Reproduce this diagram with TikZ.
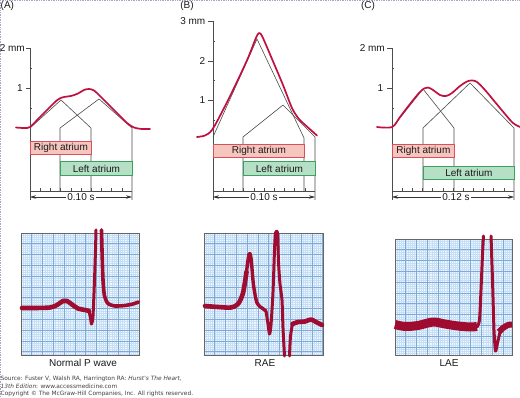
\documentclass[tikz,border=0pt]{standalone}
\usepackage{fontspec}
\setmainfont{Liberation Sans}
\newfontfamily\srcfont{DejaVu Sans}
\usetikzlibrary{arrows.meta}
\definecolor{pw}{HTML}{C01040}
\definecolor{ecg}{HTML}{A00C30}
\definecolor{rafill}{HTML}{F6C6BE}
\definecolor{raedge}{HTML}{D8505C}
\definecolor{lafill}{HTML}{B6E0C6}
\definecolor{laedge}{HTML}{3CA060}
\definecolor{gridbg}{HTML}{F0F7FE}
\definecolor{gridminor}{HTML}{C4DFF6}
\definecolor{gridmajor}{HTML}{80AAD6}
\definecolor{txt}{HTML}{1A1A1A}
\definecolor{edge}{HTML}{B0A4C4}
\newcommand{\ecgpaper}[4]{%
  \fill[gridbg] (#1,#2) rectangle (#3,#4);
  \begin{scope}
    \clip (#1,#2) rectangle (#3,#4);
    \foreach \i in {1,...,56}{
      \draw[minorln] ({#1+\i*2.16},#2) -- ({#1+\i*2.16},#4);
      \draw[minorln] (#1,{#2+\i*2.16}) -- (#3,{#2+\i*2.16});}
    \foreach \i in {1,...,11}{
      \draw[majorln] ({#1+\i*10.8},#2) -- ({#1+\i*10.8},#4);
      \draw[majorln] (#1,{#2+\i*10.8}) -- (#3,{#2+\i*10.8});}
  \end{scope}
  \draw[paperedge] (#1,#2) rectangle (#3,#4);}
\begin{document}
\begin{tikzpicture}[x=1pt,y=-1pt,
  pcurve/.style={draw=pw, line width=1.7pt, line join=round, line cap=round},
  tri/.style={draw=black!70, line width=0.6pt, line join=round},
  axisln/.style={draw=black!70, line width=0.6pt},
  rabox/.style={draw=raedge, fill=rafill, line width=0.8pt, minimum height=13.5pt, inner sep=0pt, anchor=west, font=\fontsize{10}{10}\selectfont, text=txt},
  labox/.style={draw=laedge, fill=lafill, line width=0.8pt, minimum height=13.5pt, inner sep=0pt, anchor=west, font=\fontsize{10}{10}\selectfont, text=txt},
  lbl/.style={font=\fontsize{10}{10}\selectfont, text=txt, inner sep=0pt},
  ticklbl/.style={font=\fontsize{10}{10}\selectfont, text=txt, inner sep=0pt, anchor=east},
  scl/.style={font=\fontsize{10}{10}\selectfont, text=txt, fill=white, inner sep=1.5pt},
  dim/.style={draw=black!80, line width=0.6pt, {Stealth[length=6pt,width=3.5pt]}-{Stealth[length=6pt,width=3.5pt]}},
  minorln/.style={draw=gridminor, line width=0.4pt},
  majorln/.style={draw=gridmajor, line width=0.75pt},
  paperedge/.style={draw=black!60, line width=0.8pt},
  trace/.style={draw=ecg, line join=round, line cap=round},
  src/.style={font=\srcfont\fontsize{5.85}{6}\selectfont, text=black!75, inner sep=0pt, anchor=west}]
\useasboundingbox (0,0) rectangle (520,398);
\fill[white] (0,0) rectangle (520,398);
\draw[edge, densely dotted, line width=0.7pt] (0,0.4) -- (520,0.4);
\draw[edge, densely dotted, line width=0.7pt] (0.4,0) -- (0.4,398);

% panel labels
\node[lbl, anchor=west] (labA) at (0.5,6) {(A)};
\node[lbl] (labB) at (187,6) {(B)};
\node[lbl] (labC) at (368,6) {(C)};

% ================= Panel A =================
\draw[axisln] (30,48) -- (30,200);
\draw[axisln] (26,48) -- (30,48) (26,88) -- (30,88) (30,68) -- (32,68) (30,108) -- (32,108);
\node[ticklbl] (tA2) at (25,48) {2 mm};
\node[ticklbl] (tA1) at (23,88) {1};
\draw[tri] (30,128) -- (61,100) -- (91,128) -- (91,191);
\draw[tri] (60,191) -- (60,128) -- (99,99) -- (132,128) -- (132,200);
\draw[pcurve] plot[smooth, tension=0.55] coordinates {(16,127.5) (24,128) (30,127) (40,117) (50,107) (58,99.5) (64,97) (71,96) (78,93.5) (84,90) (89,89) (94,90.5) (100,96) (110,106) (120,116) (127,123) (134,127.5) (142,129) (150,129)};
\node[rabox, minimum width=61pt] (raA) at (30,148) {Right atrium};
\node[labox, minimum width=72pt] (laA) at (60,168.5) {Left atrium};
\draw[axisln] (30,191) -- (132,191);
\foreach \k in {1,...,9}{\draw[axisln] ({30+\k*10.2},191) -- ++(0,-2.5);}
\coordinate (aAl) at (30,197);
\coordinate (aAr) at (132,197);
\draw[dim] (aAl) -- (aAr);
\node[scl] (sA) at (81,197) {0.10 s};

% ================= Panel B =================
\draw[axisln] (213,21) -- (213,200);
\draw[axisln] (208,21) -- (213,21) (208,61) -- (213,61) (208,100) -- (213,100)
  (213,41) -- (215,41) (213,80) -- (215,80) (213,120) -- (215,120);
\node[ticklbl] (tB3) at (205.5,21) {3 mm};
\node[ticklbl] (tB2) at (205.5,61) {2};
\node[ticklbl] (tB1) at (205.5,100) {1};
\draw[tri] (213,137) -- (257,39) -- (304,138) -- (304,191);
\draw[tri] (243,191) -- (243,137) -- (283,105) -- (315,137) -- (315,200);
\draw[pcurve] plot[smooth, tension=0.5] coordinates {(197,137) (205,135.5) (212,130) (222,112) (235,86) (248,58) (255.5,39) (259,33) (262.5,37) (272,59) (283,85) (292,108) (299,119) (308,127.5) (317,135.5)};
\node[rabox, minimum width=91pt] (raB) at (213,151) {Right atrium};
\node[labox, minimum width=72pt] (laB) at (243,168.5) {Left atrium};
\draw[axisln] (213,191) -- (315,191);
\foreach \k in {1,...,9}{\draw[axisln] ({213+\k*10.2},191) -- ++(0,-2.5);}
\coordinate (aBl) at (213,197);
\coordinate (aBr) at (315,197);
\draw[dim] (aBl) -- (aBr);
\node[scl] (sB) at (264,197) {0.10 s};

% ================= Panel C =================
\draw[axisln] (392,48) -- (392,200);
\draw[axisln] (387,48) -- (392,48) (387,88) -- (392,88) (392,68) -- (394,68) (392,108) -- (394,108);
\node[ticklbl] (tC2) at (385,48) {2 mm};
\node[ticklbl] (tC1) at (383.5,88) {1};
\draw[tri] (392,128) -- (423,89) -- (454,128) -- (454,191);
\draw[tri] (423,191) -- (423,128) -- (470,83) -- (514,128) -- (514,200);
\draw[pcurve] plot[smooth, tension=0.55] coordinates {(377,127) (392,127) (400,117) (410,104) (419,93) (424,88.5) (428,87.5) (433,90) (440,95) (446,96) (452,93) (460,86) (467,81.5) (472,80.5) (477,82) (485,90) (495,102) (505,114) (513,123) (520,127)};
\node[rabox, minimum width=62pt] (raC) at (392,151) {Right atrium};
\node[labox, minimum width=91pt] (laC) at (423,173) {Left atrium};
\draw[axisln] (392,191) -- (514,191);
\foreach \k in {1,...,11}{\draw[axisln] ({392+\k*10.17},191) -- ++(0,-2.5);}
\coordinate (aCl) at (392,197);
\coordinate (aCr) at (514,197);
\draw[dim] (aCl) -- (aCr);
\node[scl] (sC) at (456,197) {0.12 s};

% ================= ECG strips =================
\ecgpaper{21}{233}{139}{355}
\ecgpaper{204}{233}{323}{355}
\ecgpaper{395}{239}{512}{355}

% trace A
\draw[trace, line width=4.6pt] plot[smooth, tension=0.5] coordinates {(22,308) (35,308) (50,307.5) (57,305) (63,301) (67,301) (72,304.5) (78,308.5) (85,310) (89,311)};
\draw[trace, line width=3pt] plot[smooth, tension=0.4] coordinates {(89,311) (90.5,318) (91.5,324) (93,316) (94.5,280) (95.5,250) (96,230)};
\draw[trace, line width=3.6pt] plot[smooth, tension=0.4] coordinates {(101.5,230) (102,250) (103,280) (104.5,296) (108,303.5) (115,306) (125,305.5) (133,304) (138.5,302)};

% trace B
\draw[trace, line width=4.6pt] plot[smooth, tension=0.5] coordinates {(205,306) (218,307) (231,307.5) (238,304) (243,293) (246.5,272)};
\draw[trace, line width=3.4pt] plot[smooth, tension=0.5] coordinates {(246.5,272) (249,254) (251,258) (253.5,285) (257,303) (262,308) (266,311)};
\draw[trace, line width=3pt] plot[smooth, tension=0.4] coordinates {(266,311) (268,324) (269.5,334) (271,325) (273,292) (274.5,250) (275.5,233) (277.5,233) (278.5,262) (280,284) (282,300) (283,328) (284.5,356)};
\draw[trace, line width=3pt] plot[smooth, tension=0.4] coordinates {(289.5,356) (290.5,336) (292.5,324)};
\draw[trace, line width=4.6pt] plot[smooth, tension=0.5] coordinates {(292.5,324) (298,322) (305,321.5) (311,319.5) (316,322) (322,325)};

% trace C
\draw[trace, line width=9pt, line cap=butt] plot[smooth, tension=0.5] coordinates {(395,324.5) (405,326.5) (418,325.5) (433,322) (445,324) (458,326) (470,327) (477,326.5)};
\draw[trace, line width=3pt] plot[smooth, tension=0.4] coordinates {(477,327) (479.5,320) (481,290) (482.5,255) (483.5,236)};
\draw[trace, line width=3pt] plot[smooth, tension=0.4] coordinates {(491,236) (492.5,280) (494,330) (495.5,351) (497.5,343) (500,332)};
\draw[trace, line width=6pt, line cap=butt] plot[smooth, tension=0.5] coordinates {(499,332) (503,328) (508,325) (512,324.5)};

% captions
\node[lbl] (capA) at (83,363) {Normal P wave};
\node[lbl] (capB) at (265,363) {RAE};
\node[lbl] (capC) at (449,363) {LAE};

% source
\node[src] (src1) at (0.5,379) {Source: Fuster V, Walsh RA, Harrington RA: \textit{Hurst's The Heart,}};
\node[src] (src2) at (0.5,386.5) {\textit{13th Edition}: www.accessmedicine.com};
\node[src] (src3) at (0.5,394) {Copyright \textcopyright{} The McGraw-Hill Companies, Inc. All rights reserved.};
\end{tikzpicture}
\end{document}
